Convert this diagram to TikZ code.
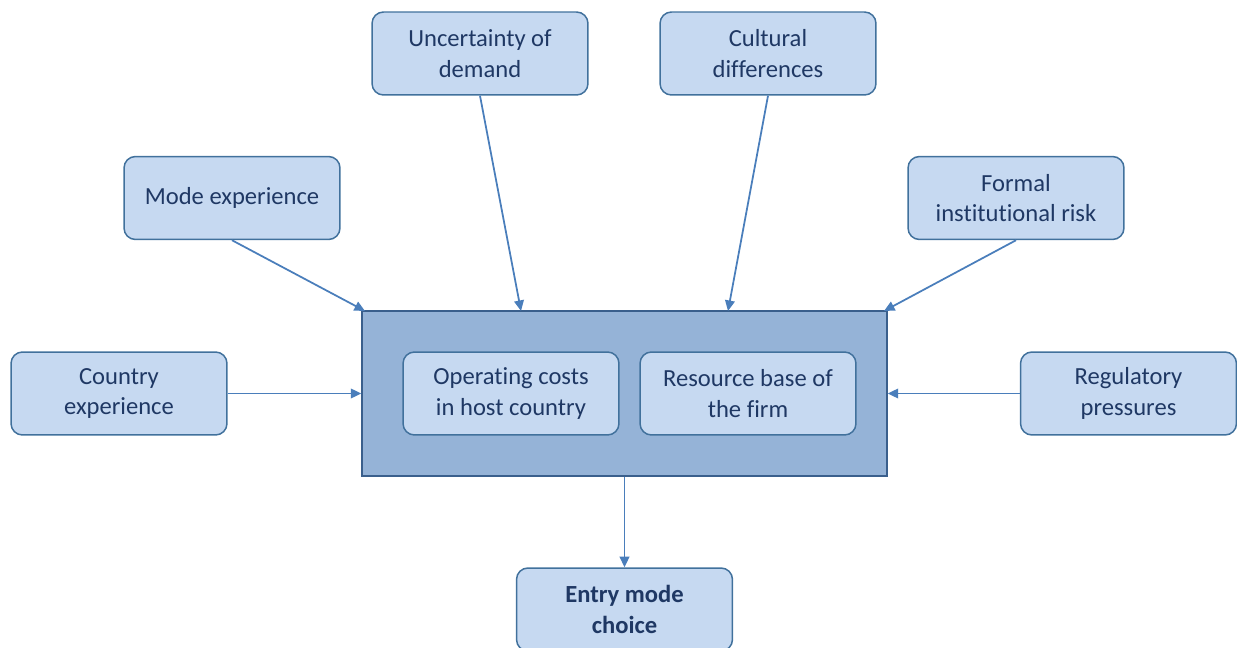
\documentclass[tikz,border=0pt]{standalone}
\usepackage{fontspec}
\setmainfont{Carlito}[Ligatures=NoCommon]
\usetikzlibrary{arrows.meta}
\usetikzlibrary{positioning}
\definecolor{boxfill}{HTML}{C6D9F1}
\definecolor{boxline}{HTML}{41719C}
\definecolor{corefill}{HTML}{95B3D7}
\definecolor{coreline}{HTML}{3A5F8C}
\definecolor{linkline}{HTML}{4A7EBB}
\definecolor{labeltext}{HTML}{1F3864}

\begin{document}
\begin{tikzpicture}[x=0.02cm,y=-0.02cm,
		>={Triangle[length=6pt,width=5.5pt]},
		font=\fontsize{14}{17.5}\selectfont,text=labeltext]
		\tikzstyle{factor}=[draw=boxline,fill=boxfill,line width=0.85pt,rounded corners=6.5pt,
			minimum width=4.32cm,minimum height=1.66cm,align=center,inner sep=0pt]
		\tikzstyle{core}=[draw=coreline,fill=corefill,line width=0.85pt,
			minimum width=10.5cm,minimum height=3.3cm,inner sep=0pt]
		\tikzstyle{link}=[->,draw=linkline,line width=1pt]
		
		\useasboundingbox (0,0) rectangle (1237,648);
		
		\node[core] (C) at (624.5,393.5) {};
		\node[factor] (O) at (511,393.5) {Operating costs\\in host country};
		\node[factor] (R) at (748,393.5) {Resource base of\\the firm};
		
		\node[factor] (U)  at (480,53.5)   {Uncertainty of\\demand};
		\node[factor] (D)  at (768,53.5)   {Cultural\\differences};
		\node[factor] (M)  at (232,198)    {Mode experience};
		\node[factor] (F)  at (1016,198)   {Formal\\institutional risk};
		\node[factor] (K)  at (119,393.5)  {Country\\experience};
		\node[factor] (P)  at (1128.5,393.5) {Regulatory\\pressures};
		\node[factor] (E)  at (624.5,609.5)  {\textbf{Entry mode}\\\textbf{choice}};
		
		\coordinate (CU) at (521,311);
		\coordinate (CD) at (728,311);
		\coordinate (CM) at (365,311);
		\coordinate (CF) at (884,311);
		
		\path
		(M.south) edge [link] (CM)
		(U.south) edge [link] (CU)
		(D.south) edge [link] (CD)
		(F.south) edge [link] (CF)
		(K.east)  edge [link] (C.west |- K.east)
		(P.west)  edge [link] (C.east |- P.west)
		(C.south) edge [link] (E.north);
		\end{tikzpicture}
\end{document}
